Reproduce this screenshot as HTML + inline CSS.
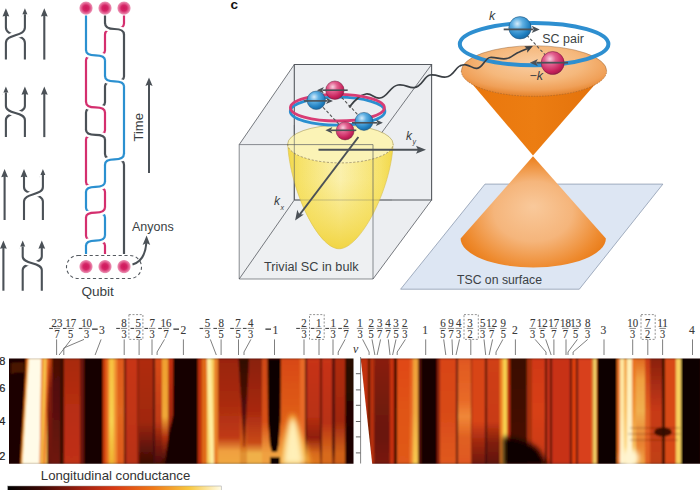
<!DOCTYPE html>
<html><head><meta charset="utf-8"><style>
html,body{margin:0;padding:0;background:#fff;overflow:hidden;width:700px;height:490px;}
svg{display:block;font-family:"Liberation Sans",sans-serif;}
</style></head><body>
<svg width="700" height="490" viewBox="0 0 700 490">
<rect width="700" height="490" fill="#fff"/>
<g>
<line x1="44.3" y1="14.2" x2="44.3" y2="59.6" stroke="#4b5157" stroke-width="2.1"/><path d="M44.3,8.2 L40.9,16.5 L44.3,15.799999999999999 L47.699999999999996,16.5Z" fill="#4b5157"/><path d="M5.9,8.2 L2.5000000000000004,16.5 L5.9,15.799999999999999 L9.3,16.5Z" fill="#4b5157"/><path d="M24.9,8.2 L21.5,16.5 L24.9,15.799999999999999 L28.299999999999997,16.5Z" fill="#4b5157"/><path d="M24.9,59.6 L24.9,43  C24.9,33.7 5.9,36.8 5.9,27.5 L5.9,14.2" fill="none" stroke="#4b5157" stroke-width="2.1"/><path d="M5.9,59.6 L5.9,43  C5.9,33.7 24.9,36.8 24.9,27.5 L24.9,14.2" fill="none" stroke="#fff" stroke-width="7"/><path d="M5.9,59.6 L5.9,43  C5.9,33.7 24.9,36.8 24.9,27.5 L24.9,14.2" fill="none" stroke="#4b5157" stroke-width="2.1"/>
<line x1="44.3" y1="92.5" x2="44.3" y2="137.1" stroke="#4b5157" stroke-width="2.1"/><path d="M44.3,86.5 L40.9,94.8 L44.3,94.1 L47.699999999999996,94.8Z" fill="#4b5157"/><path d="M5.9,86.5 L2.5000000000000004,94.8 L5.9,94.1 L9.3,94.8Z" fill="#4b5157"/><path d="M24.9,86.5 L21.5,94.8 L24.9,94.1 L28.299999999999997,94.8Z" fill="#4b5157"/><path d="M5.9,137.1 L5.9,120  C5.9,111.6 24.9,114.4 24.9,106 L24.9,92.5" fill="none" stroke="#4b5157" stroke-width="2.1"/><path d="M24.9,137.1 L24.9,120  C24.9,111.6 5.9,114.4 5.9,106 L5.9,92.5" fill="none" stroke="#fff" stroke-width="7"/><path d="M24.9,137.1 L24.9,120  C24.9,111.6 5.9,114.4 5.9,106 L5.9,92.5" fill="none" stroke="#4b5157" stroke-width="2.1"/>
<line x1="4.6" y1="175" x2="4.6" y2="220" stroke="#4b5157" stroke-width="2.1"/><path d="M4.6,169 L1.1999999999999997,177.3 L4.6,176.6 L8.0,177.3Z" fill="#4b5157"/><path d="M24.0,169 L20.6,177.3 L24.0,176.6 L27.4,177.3Z" fill="#4b5157"/><path d="M42.9,169 L39.5,177.3 L42.9,176.6 L46.3,177.3Z" fill="#4b5157"/><path d="M42.9,220 L42.9,201.5  C42.9,192.8 24.0,195.7 24.0,187 L24.0,175" fill="none" stroke="#4b5157" stroke-width="2.1"/><path d="M24.0,220 L24.0,201.5  C24.0,192.8 42.9,195.7 42.9,187 L42.9,175" fill="none" stroke="#fff" stroke-width="7"/><path d="M24.0,220 L24.0,201.5  C24.0,192.8 42.9,195.7 42.9,187 L42.9,175" fill="none" stroke="#4b5157" stroke-width="2.1"/>
<line x1="3.4" y1="246.4" x2="3.4" y2="290.7" stroke="#4b5157" stroke-width="2.1"/><path d="M3.4,240.4 L0.0,248.70000000000002 L3.4,248.0 L6.8,248.70000000000002Z" fill="#4b5157"/><path d="M22.7,240.4 L19.3,248.70000000000002 L22.7,248.0 L26.099999999999998,248.70000000000002Z" fill="#4b5157"/><path d="M41.8,240.4 L38.4,248.70000000000002 L41.8,248.0 L45.199999999999996,248.70000000000002Z" fill="#4b5157"/><path d="M22.7,290.7 L22.7,270  C22.7,261.9 41.8,264.6 41.8,256.5 L41.8,246.4" fill="none" stroke="#4b5157" stroke-width="2.1"/><path d="M41.8,290.7 L41.8,270  C41.8,261.9 22.7,264.6 22.7,256.5 L22.7,246.4" fill="none" stroke="#fff" stroke-width="7"/><path d="M41.8,290.7 L41.8,270  C41.8,261.9 22.7,264.6 22.7,256.5 L22.7,246.4" fill="none" stroke="#4b5157" stroke-width="2.1"/>
</g>
<g fill="none" stroke-width="2.2" stroke-linecap="butt">
<path d="M86,15.5 L86,50.4  Q86,55.3 95.5,55.3 Q105,55.3 105,60.2 L105,76.5  Q105,81.4 114.5,81.4 Q124,81.4 124,86.3 L124,154.1  Q124,159.39999999999998 114.5,159.39999999999998 Q105,159.39999999999998 105,164.7 L105,182.0  Q105,186.9 95.5,186.9 Q86,186.9 86,191.8 L86,207.8  Q86,212.65 95.5,212.65 Q105,212.65 105,217.5 L105,235.7  Q105,240.6 95.5,240.6 Q86,240.6 86,245.5 L86,254" stroke="#2b90d0"/>
<path d="M105,15.5 L105,23.5  Q105,29.0 114.5,29.0 Q124,29.0 124,34.5 L124,76.5  Q124,81.4 114.5,81.4 Q105,81.4 105,86.3 L105,102.2  Q105,107.4 95.5,107.4 Q86,107.4 86,112.6 L86,130.2  Q86,134.8 95.5,134.8 Q105,134.8 105,139.4 L105,154.1  Q105,159.39999999999998 114.5,159.39999999999998 Q124,159.39999999999998 124,164.7 L124,254" stroke="#4b5157"/>
<path d="M124,15.5 L124,23.5  Q124,29.0 114.5,29.0 Q105,29.0 105,34.5 L105,50.4  Q105,55.3 95.5,55.3 Q86,55.3 86,60.2 L86,102.2  Q86,107.4 95.5,107.4 Q105,107.4 105,112.6 L105,130.2  Q105,134.8 95.5,134.8 Q86,134.8 86,139.4 L86,182.0  Q86,186.9 95.5,186.9 Q105,186.9 105,191.8 L105,207.8  Q105,212.65 95.5,212.65 Q86,212.65 86,217.5 L86,235.7  Q86,240.6 95.5,240.6 Q105,240.6 105,245.5 L105,254" stroke="#d42f6e"/>
<path d="M105,23.5 Q105,29.0 114.5,29.0 Q124,29.0 124,34.5" stroke="#fff" stroke-width="6.5"/>
<path d="M105,23.0  Q105,29.0 114.5,29.0 Q124,29.0 124,34.5 L124,35.0" stroke="#4b5157"/>
<path d="M86,50.4 Q86,55.3 95.5,55.3 Q105,55.3 105,60.2" stroke="#fff" stroke-width="6.5"/>
<path d="M86,49.9  Q86,55.3 95.5,55.3 Q105,55.3 105,60.2 L105,60.7" stroke="#2b90d0"/>
<path d="M105,76.5 Q105,81.4 114.5,81.4 Q124,81.4 124,86.3" stroke="#fff" stroke-width="6.5"/>
<path d="M105,76.0  Q105,81.4 114.5,81.4 Q124,81.4 124,86.3 L124,86.8" stroke="#2b90d0"/>
<path d="M86,102.2 Q86,107.4 95.5,107.4 Q105,107.4 105,112.6" stroke="#fff" stroke-width="6.5"/>
<path d="M86,101.7  Q86,107.4 95.5,107.4 Q105,107.4 105,112.6 L105,113.1" stroke="#d42f6e"/>
<path d="M86,130.2 Q86,134.8 95.5,134.8 Q105,134.8 105,139.4" stroke="#fff" stroke-width="6.5"/>
<path d="M86,129.7  Q86,134.8 95.5,134.8 Q105,134.8 105,139.4 L105,139.9" stroke="#4b5157"/>
<path d="M124,154.1 Q124,159.39999999999998 114.5,159.39999999999998 Q105,159.39999999999998 105,164.7" stroke="#fff" stroke-width="6.5"/>
<path d="M124,153.6  Q124,159.39999999999998 114.5,159.39999999999998 Q105,159.39999999999998 105,164.7 L105,165.2" stroke="#2b90d0"/>
<path d="M105,182.0 Q105,186.9 95.5,186.9 Q86,186.9 86,191.8" stroke="#fff" stroke-width="6.5"/>
<path d="M105,181.5  Q105,186.9 95.5,186.9 Q86,186.9 86,191.8 L86,192.3" stroke="#2b90d0"/>
<path d="M105,207.8 Q105,212.65 95.5,212.65 Q86,212.65 86,217.5" stroke="#fff" stroke-width="6.5"/>
<path d="M105,207.3  Q105,212.65 95.5,212.65 Q86,212.65 86,217.5 L86,218.0" stroke="#d42f6e"/>
<path d="M105,235.7 Q105,240.6 95.5,240.6 Q86,240.6 86,245.5" stroke="#fff" stroke-width="6.5"/>
<path d="M105,235.2  Q105,240.6 95.5,240.6 Q86,240.6 86,245.5 L86,246.0" stroke="#2b90d0"/>
</g>
<defs><radialGradient id="dotg"><stop offset="0" stop-color="#cf185b"/><stop offset="0.4" stop-color="#d42466"/><stop offset="0.62" stop-color="#e05488"/><stop offset="0.85" stop-color="#ea8cb0"/><stop offset="1" stop-color="#f6d0de" stop-opacity="0"/></radialGradient></defs>
<circle cx="86" cy="8.1" r="7.2" fill="url(#dotg)"/>
<circle cx="86" cy="266.6" r="7.2" fill="url(#dotg)"/>
<circle cx="105" cy="8.1" r="7.2" fill="url(#dotg)"/>
<circle cx="105" cy="266.6" r="7.2" fill="url(#dotg)"/>
<circle cx="124" cy="8.1" r="7.2" fill="url(#dotg)"/>
<circle cx="124" cy="266.6" r="7.2" fill="url(#dotg)"/>
<rect x="66.5" y="255.5" width="75" height="23" rx="11.5" fill="none" stroke="#555a60" stroke-width="1.1" stroke-dasharray="3.2 2.6"/>
<text x="81.4" y="296" font-size="12.8" fill="#3a3f44" textLength="32.5" lengthAdjust="spacingAndGlyphs">Qubit</text>
<path d="M132.5,264.5 Q145,261 146.3,243" fill="none" stroke="#4b5157" stroke-width="2.1"/>
<path d="M146.6,235.5 L142.6,245 L146.4,243 L150.2,245Z" fill="#4b5157"/>
<text x="132" y="231.3" font-size="12.5" fill="#3a3f44">Anyons</text>
<line x1="149" y1="84" x2="149" y2="173" stroke="#4b5157" stroke-width="2"/>
<path d="M149,77.5 L145.4,86 L149,84.5 L152.6,86Z" fill="#4b5157"/>
<text transform="translate(143,141.5) rotate(-90)" font-size="13" fill="#3a3f44">Time</text>
<text x="230.5" y="9" font-size="13.6" font-weight="bold" fill="#111">c</text>
<defs>
<radialGradient id="ballB" cx="0.38" cy="0.32" r="0.7"><stop offset="0" stop-color="#d6ecfa"/><stop offset="0.35" stop-color="#5fb0e3"/><stop offset="0.8" stop-color="#1f7fc0"/><stop offset="1" stop-color="#1a6aa5"/></radialGradient>
<radialGradient id="ballP" cx="0.38" cy="0.32" r="0.7"><stop offset="0" stop-color="#f8d0df"/><stop offset="0.35" stop-color="#e2608f"/><stop offset="0.8" stop-color="#c8225c"/><stop offset="1" stop-color="#a81a4c"/></radialGradient>
<linearGradient id="parab" x1="0" y1="0" x2="0" y2="1"><stop offset="0" stop-color="#fbf1a6"/><stop offset="0.45" stop-color="#fbf2b0"/><stop offset="0.8" stop-color="#f6e367"/><stop offset="1" stop-color="#f2d93f"/></linearGradient>
<radialGradient id="parabEdge" cx="0.5" cy="0.35" r="0.6"><stop offset="0.5" stop-color="#fff" stop-opacity="0.35"/><stop offset="1" stop-color="#f0d840" stop-opacity="0.45"/></radialGradient>
</defs>
<polygon points="294.3,64.5 431.6,64.5 431.6,200 294.3,200" fill="#eceef1" stroke="none" stroke-width="0"/>
<polygon points="239.2,144.6 294.3,64.5 294.3,200 239.2,279" fill="#e9ebee" stroke="none" stroke-width="0"/>
<polygon points="239.2,279 294.3,200 431.6,200 373,279" fill="#f3f4f6" stroke="none" stroke-width="0"/>
<polygon points="373,144.6 431.6,64.5 431.6,200 373,279" fill="#eceef1" stroke="none" stroke-width="0"/>
<polygon points="239.2,144.6 294.3,64.5 431.6,64.5 373,144.6" fill="#eceef1" stroke="none" stroke-width="0"/>
<polygon points="239.2,144.6 373,144.6 373,279 239.2,279" fill="#eef0f2" stroke="none" stroke-width="0"/>
<path d="M294.3,200 L294.3,64.5 L431.6,64.5 L431.6,200 L294.3,200" fill="none" stroke="#55595f" stroke-width="1.1"/>
<line x1="239.2" y1="144.6" x2="294.3" y2="64.5" stroke="#55595f" stroke-width="0.8"/>
<line x1="373" y1="144.6" x2="431.6" y2="64.5" stroke="#55595f" stroke-width="0.8"/>
<line x1="373" y1="279" x2="431.6" y2="200" stroke="#55595f" stroke-width="0.8"/>
<line x1="239.2" y1="279" x2="294.3" y2="200" stroke="#55595f" stroke-width="0.8"/>
<defs>
<linearGradient id="parH" x1="0" y1="0" x2="1" y2="0"><stop offset="0" stop-color="#f2d84a"/><stop offset="0.12" stop-color="#f6e26a"/><stop offset="0.5" stop-color="#fbf1b0"/><stop offset="0.88" stop-color="#f6e26a"/><stop offset="1" stop-color="#f2d84a"/></linearGradient>
<linearGradient id="parV" x1="0" y1="0" x2="0" y2="1"><stop offset="0" stop-color="#f4dc50" stop-opacity="0"/><stop offset="0.35" stop-color="#f4dc50" stop-opacity="0.05"/><stop offset="0.7" stop-color="#f3d84a" stop-opacity="0.55"/><stop offset="1" stop-color="#f0d238" stop-opacity="0.9"/></linearGradient>
</defs>
<path d="M287.7,144 C290,190 318,248.8 339.2,248.8 C360,248.8 391,190 393.1,144 A52.7,18.9 0 0 1 287.7,144Z" fill="url(#parH)"/>
<path d="M287.7,144 C290,190 318,248.8 339.2,248.8 C360,248.8 391,190 393.1,144 A52.7,18.9 0 0 1 287.7,144Z" fill="url(#parV)"/>
<path d="M287.7,144 C290,190 318,248.8 339.2,248.8 C360,248.8 391,190 393.1,144" fill="none" stroke="#d8c050" stroke-width="0.6"/>
<ellipse cx="340.4" cy="144" rx="52.7" ry="18.9" fill="#fbf3b6"/>
<path d="M287.7,144 A52.7,18.9 0 0 1 393.1,144" fill="none" stroke="#a89850" stroke-width="0.6"/>
<path d="M287.7,144 A52.7,18.9 0 0 0 393.1,144" fill="none" stroke="#8a7a50" stroke-width="0.7" stroke-dasharray="2.2 1.6"/>
<line x1="294.3" y1="125" x2="294.3" y2="200" stroke="#55595f" stroke-width="0.8" opacity="0.75"/>
<line x1="294.3" y1="200" x2="392" y2="200" stroke="#55595f" stroke-width="0.7" opacity="0.45"/>
<path d="M239.2,144.6 L373,144.6 L373,279 L239.2,279 Z" fill="none" stroke="#55595f" stroke-width="0.8" opacity="0.85"/>
<text x="264" y="270.5" font-size="12.5" fill="#3a3f44" textLength="94.6" lengthAdjust="spacingAndGlyphs">Trivial SC in bulk</text>
<line x1="318.5" y1="149.7" x2="419" y2="149.7" stroke="#4b5157" stroke-width="2"/>
<path d="M426,149.7 L416,145.7 L418,149.7 L416,153.7Z" fill="#4b5157"/>
<line x1="358.4" y1="137" x2="299" y2="215.5" stroke="#4b5157" stroke-width="2"/>
<path d="M295.1,220.5 L297.3,209.8 L299.3,214.3 L303.8,214.6Z" fill="#4b5157"/>
<text x="406" y="140" font-size="12" font-style="italic" fill="#3a3f44">k</text><text x="412.5" y="143.5" font-size="7" font-style="italic" fill="#3a3f44">y</text>
<text x="274" y="204.6" font-size="12" font-style="italic" fill="#3a3f44">k</text><text x="280.5" y="209.5" font-size="7" font-style="italic" fill="#3a3f44">x</text>
<ellipse cx="337.6" cy="111.2" rx="47.3" ry="14" fill="none" stroke="#2a8fd0" stroke-width="2.8"/>
<path d="M349.8,106.6 Q354,101 358,98 Q361,95 366,94 C372,93 374,99 380,98 C388,97 390,86 398,85 C406,84 408,88 414,87.6 C422,87 424,76 430,75 C438,74 440,78 446,77 C454,76 456,66 461,65.5" fill="none" stroke="#3a3f44" stroke-width="1.7"/>
<circle cx="350" cy="106.4" r="1.3" fill="#3a3f44"/>
<ellipse cx="337.4" cy="107.7" rx="47" ry="13.3" fill="none" stroke="#d83c74" stroke-width="2.8"/>
<path d="M316.3,100 L345.1,130.9 M334.9,90.2 L364,121.4" stroke="#555" stroke-width="1.1" stroke-dasharray="3 2"/>
<circle cx="334.9" cy="90.2" r="9.2" fill="url(#ballP)" stroke="#6a1a3a" stroke-width="0.5"/>
<line x1="347.7" y1="90.2" x2="322.5" y2="90.2" stroke="#4b5157" stroke-width="1.6"/><path d="M316.9,90.2 L323.9,87.0 L322.15,90.2 L323.9,93.4Z" fill="#4b5157"/>
<circle cx="316.3" cy="100.3" r="9.2" fill="url(#ballB)" stroke="#1a4a70" stroke-width="0.5"/>
<line x1="304" y1="100.9" x2="327.4" y2="100.9" stroke="#4b5157" stroke-width="1.6"/><path d="M333,100.9 L326,97.7 L327.75,100.9 L326,104.10000000000001Z" fill="#4b5157"/>
<circle cx="364" cy="121.4" r="9" fill="url(#ballB)" stroke="#1a4a70" stroke-width="0.5"/>
<line x1="352" y1="122.8" x2="377.29999999999995" y2="122.8" stroke="#4b5157" stroke-width="1.6"/><path d="M382.9,122.8 L375.9,119.6 L377.65,122.8 L375.9,126.0Z" fill="#4b5157"/>
<circle cx="345.1" cy="130.9" r="9" fill="url(#ballP)" stroke="#6a1a3a" stroke-width="0.5"/>
<line x1="356.3" y1="130.3" x2="331.0" y2="130.3" stroke="#4b5157" stroke-width="1.6"/><path d="M325.4,130.3 L332.4,127.10000000000001 L330.65,130.3 L332.4,133.5Z" fill="#4b5157"/>
<defs>
<linearGradient id="coneU" x1="0" y1="0" x2="1" y2="0"><stop offset="0" stop-color="#e9760c"/><stop offset="0.5" stop-color="#ec7d12"/><stop offset="1" stop-color="#e2700a"/></linearGradient>
<radialGradient id="coneTop" cx="0.5" cy="0.35" r="0.62"><stop offset="0" stop-color="#f9cda2"/><stop offset="0.55" stop-color="#f5b87c"/><stop offset="0.85" stop-color="#f0a058"/><stop offset="1" stop-color="#e88a36"/></radialGradient>
<radialGradient id="coneL" cx="0.5" cy="0.55" r="0.6" fx="0.5" fy="0.45"><stop offset="0" stop-color="#f9c99b"/><stop offset="0.45" stop-color="#f5b57b"/><stop offset="0.8" stop-color="#ee8a2e"/><stop offset="1" stop-color="#e6740c"/></radialGradient>
</defs>
<polygon points="485,184.1 662.9,184.1 579.3,289.2 400.6,289.2" fill="#dde6f3" stroke="#8d9ab0" stroke-width="0.8"/>
<text x="457" y="284.4" font-size="12.5" fill="#3a3f44" textLength="85" lengthAdjust="spacingAndGlyphs">TSC on surface</text>
<path d="M533,156.3 L460.6,238.5 A72.65,29 0 0 0 605.9,238.5 Z" fill="url(#coneL)"/>
<path d="M461.2,71 L533,155.5 L606.7,71 Z" fill="url(#coneU)"/>
<ellipse cx="534" cy="71" rx="72.7" ry="25.3" fill="url(#coneTop)"/>
<path d="M461.3,71 A72.7,25.3 0 0 0 606.7,71" fill="none" stroke="#a0602a" stroke-width="0.6" stroke-dasharray="1.6 1.2"/>
<path d="M461.3,71 A72.7,25.3 0 0 1 606.7,71" fill="none" stroke="#8a5a30" stroke-width="0.6" opacity="0.7"/>
<ellipse cx="534.1" cy="44.1" rx="74.3" ry="21.2" fill="none" stroke="#2e8fd0" stroke-width="4"/>
<path d="M460,65.8 C462,65 464,64.6 466,64.8 C471,65.5 473,69 477,68.4 C483,67.8 485,58 490,57.5 C496,57 500,59.5 506,58.7 C512,58 515,53 519.4,52 C523,50.5 525,49.5 527,48.7" fill="none" stroke="#3a3f44" stroke-width="1.7"/>
<path d="M532.9,45.9 L524.3,46.3 L527.3,48.9 L527.2,52.8Z" fill="#3a3f44"/>
<path d="M520,27.8 L552.7,63" stroke="#555" stroke-width="1.1" stroke-dasharray="3 2"/>
<circle cx="520" cy="27.8" r="11.2" fill="url(#ballB)" stroke="#1a4a70" stroke-width="0.5"/>
<line x1="503.7" y1="29.4" x2="533.3000000000001" y2="29.4" stroke="#4b5157" stroke-width="1.8"/><path d="M539.7,29.4 L531.7,25.799999999999997 L533.7,29.4 L531.7,33.0Z" fill="#4b5157"/>
<circle cx="552.7" cy="63" r="11.5" fill="url(#ballP)" stroke="#6a1a3a" stroke-width="0.5"/>
<line x1="568" y1="62.7" x2="536.3" y2="62.7" stroke="#4b5157" stroke-width="1.8"/><path d="M529.9,62.7 L537.9,59.1 L535.9,62.7 L537.9,66.3Z" fill="#4b5157"/>
<text x="489" y="19.6" font-size="12.5" font-style="italic" fill="#3a3f44">k</text>
<text x="542.3" y="42.5" font-size="12.5" fill="#3a3f44" textLength="41.5" lengthAdjust="spacingAndGlyphs">SC pair</text>
<text x="529.5" y="80" font-size="12.5" font-style="italic" fill="#3a3f44">−k</text>
<defs><linearGradient id="hg1" x1="0" y1="0" x2="0" y2="1"><stop offset="0" stop-color="#c04010"/><stop offset="0.3" stop-color="#801c0c"/><stop offset="1" stop-color="#6a1408"/></linearGradient><linearGradient id="hg2" x1="0" y1="0" x2="0" y2="1"><stop offset="0" stop-color="#4a0c06"/><stop offset="0.5" stop-color="#5a1008"/><stop offset="1" stop-color="#701a0a"/></linearGradient><linearGradient id="hg3" x1="0" y1="0" x2="0" y2="1"><stop offset="0" stop-color="#a82a10"/><stop offset="0.5" stop-color="#b82e12"/><stop offset="1" stop-color="#c03012"/></linearGradient><linearGradient id="hg4" x1="0" y1="0" x2="0" y2="1"><stop offset="0" stop-color="#f8c040"/><stop offset="0.6" stop-color="#f8d050"/><stop offset="1" stop-color="#f0b030"/></linearGradient><linearGradient id="hg5" x1="0" y1="0" x2="0" y2="1"><stop offset="0" stop-color="#e05a1a"/><stop offset="0.5" stop-color="#e06820"/><stop offset="1" stop-color="#e05a1a"/></linearGradient><linearGradient id="hg6" x1="0" y1="0" x2="0" y2="1"><stop offset="0" stop-color="#c83414"/><stop offset="0.6" stop-color="#c03414"/><stop offset="1" stop-color="#b83012"/></linearGradient><linearGradient id="hg7" x1="0" y1="0" x2="0" y2="1"><stop offset="0" stop-color="#b02c10"/><stop offset="0.6" stop-color="#a02810"/><stop offset="0.85" stop-color="#601408"/><stop offset="1" stop-color="#3a0a04"/></linearGradient><linearGradient id="hg8" x1="0" y1="0" x2="0" y2="1"><stop offset="0" stop-color="#d84a18"/><stop offset="0.6" stop-color="#c03a14"/><stop offset="0.8" stop-color="#801c0c"/><stop offset="1" stop-color="#4a0c06"/></linearGradient><linearGradient id="hg9" x1="0" y1="0" x2="0" y2="1"><stop offset="0" stop-color="#f0a030"/><stop offset="0.55" stop-color="#f0a838"/><stop offset="0.75" stop-color="#b03010"/><stop offset="1" stop-color="#3a0a04"/></linearGradient><linearGradient id="hg10" x1="0" y1="0" x2="0" y2="1"><stop offset="0" stop-color="#c83010"/><stop offset="0.6" stop-color="#a02810"/><stop offset="0.8" stop-color="#300804"/><stop offset="1" stop-color="#100302"/></linearGradient><linearGradient id="hg11" x1="0" y1="0" x2="0" y2="1"><stop offset="0" stop-color="#9a2410"/><stop offset="0.4" stop-color="#a82a10"/><stop offset="0.75" stop-color="#c03a14"/><stop offset="0.88" stop-color="#f0a040"/><stop offset="1" stop-color="#f0a840"/></linearGradient><linearGradient id="hg12" x1="0" y1="0" x2="0" y2="1"><stop offset="0" stop-color="#a02810"/><stop offset="0.5" stop-color="#c03414"/><stop offset="0.82" stop-color="#d06018"/><stop offset="0.9" stop-color="#e09030"/><stop offset="1" stop-color="#e09030"/></linearGradient><linearGradient id="hg13" x1="0" y1="0" x2="0" y2="1"><stop offset="0" stop-color="#8a2010"/><stop offset="0.5" stop-color="#a82810"/><stop offset="0.8" stop-color="#c84a18"/><stop offset="0.9" stop-color="#f0b048"/><stop offset="1" stop-color="#f0b048"/></linearGradient><linearGradient id="hg14" x1="0" y1="0" x2="0" y2="1"><stop offset="0" stop-color="#d04a14"/><stop offset="0.6" stop-color="#d85018"/><stop offset="0.9" stop-color="#f0a040"/><stop offset="1" stop-color="#f0a040"/></linearGradient><linearGradient id="hg15" x1="0" y1="0" x2="0" y2="1"><stop offset="0" stop-color="#d04a14"/><stop offset="0.6" stop-color="#d85018"/><stop offset="0.9" stop-color="#f0a040"/><stop offset="1" stop-color="#f0a040"/></linearGradient><linearGradient id="hg16" x1="0" y1="0" x2="0" y2="1"><stop offset="0" stop-color="#d84a14"/><stop offset="0.6" stop-color="#e06018"/><stop offset="1" stop-color="#f0a040"/></linearGradient><linearGradient id="hg17" x1="0" y1="0" x2="0" y2="1"><stop offset="0" stop-color="#d84818"/><stop offset="0.6" stop-color="#e06018"/><stop offset="1" stop-color="#f0b040"/></linearGradient><linearGradient id="hg18" x1="0" y1="0" x2="0" y2="1"><stop offset="0" stop-color="#e86a28"/><stop offset="0.8" stop-color="#e86a28"/><stop offset="1" stop-color="#e8801e"/></linearGradient><linearGradient id="hg19" x1="0" y1="0" x2="0" y2="1"><stop offset="0" stop-color="#501008"/><stop offset="0.8" stop-color="#601408"/><stop offset="1" stop-color="#a04010"/></linearGradient><linearGradient id="hg20" x1="0" y1="0" x2="0" y2="1"><stop offset="0" stop-color="#c83414"/><stop offset="0.55" stop-color="#b83012"/><stop offset="0.75" stop-color="#901e0c"/><stop offset="0.9" stop-color="#d86a1c"/><stop offset="1" stop-color="#e0781e"/></linearGradient><linearGradient id="hg21" x1="0" y1="0" x2="0" y2="1"><stop offset="0" stop-color="#601408"/><stop offset="0.85" stop-color="#601408"/><stop offset="1" stop-color="#a04010"/></linearGradient><linearGradient id="hg22" x1="0" y1="0" x2="0" y2="1"><stop offset="0" stop-color="#c83414"/><stop offset="0.6" stop-color="#b83012"/><stop offset="0.9" stop-color="#d86a1c"/><stop offset="1" stop-color="#d86a1c"/></linearGradient><linearGradient id="hg23" x1="0" y1="0" x2="0" y2="1"><stop offset="0" stop-color="#501008"/><stop offset="0.85" stop-color="#501008"/><stop offset="1" stop-color="#a04010"/></linearGradient><linearGradient id="hg24" x1="0" y1="0" x2="0" y2="1"><stop offset="0" stop-color="#b02a10"/><stop offset="0.6" stop-color="#a02810"/><stop offset="0.9" stop-color="#d06018"/><stop offset="1" stop-color="#d06018"/></linearGradient><linearGradient id="hg25" x1="0" y1="0" x2="0" y2="1"><stop offset="0" stop-color="#2a0804"/><stop offset="1" stop-color="#1a0503"/></linearGradient><linearGradient id="hg26" x1="0" y1="0" x2="0" y2="1"><stop offset="0" stop-color="#8a2010"/><stop offset="0.5" stop-color="#701a0a"/><stop offset="0.75" stop-color="#6a1808"/><stop offset="1" stop-color="#7a1a0a"/></linearGradient><linearGradient id="hg27" x1="0" y1="0" x2="0" y2="1"><stop offset="0" stop-color="#e04818"/><stop offset="0.5" stop-color="#e05418"/><stop offset="1" stop-color="#e05a1a"/></linearGradient><linearGradient id="hg28" x1="0" y1="0" x2="0" y2="1"><stop offset="0" stop-color="#e86020"/><stop offset="0.5" stop-color="#e86a28"/><stop offset="1" stop-color="#f08830"/></linearGradient><linearGradient id="hg29" x1="0" y1="0" x2="0" y2="1"><stop offset="0" stop-color="#f0a038"/><stop offset="0.5" stop-color="#f0a840"/><stop offset="1" stop-color="#f8c850"/></linearGradient><linearGradient id="hg30" x1="0" y1="0" x2="0" y2="1"><stop offset="0" stop-color="#d84418"/><stop offset="0.5" stop-color="#d84a18"/><stop offset="1" stop-color="#e05a20"/></linearGradient><linearGradient id="hg31" x1="0" y1="0" x2="0" y2="1"><stop offset="0" stop-color="#e05820"/><stop offset="0.4" stop-color="#e86a28"/><stop offset="0.55" stop-color="#f08838"/><stop offset="0.75" stop-color="#e06020"/><stop offset="1" stop-color="#e05820"/></linearGradient><linearGradient id="hg32" x1="0" y1="0" x2="0" y2="1"><stop offset="0" stop-color="#d84418"/><stop offset="0.6" stop-color="#d84418"/><stop offset="0.8" stop-color="#a02810"/><stop offset="1" stop-color="#701808"/></linearGradient><linearGradient id="hg33" x1="0" y1="0" x2="0" y2="1"><stop offset="0" stop-color="#d04016"/><stop offset="0.6" stop-color="#c83a14"/><stop offset="0.8" stop-color="#801e0c"/><stop offset="1" stop-color="#601408"/></linearGradient><linearGradient id="hg34" x1="0" y1="0" x2="0" y2="1"><stop offset="0" stop-color="#3a0a06"/><stop offset="1" stop-color="#4a1007"/></linearGradient><linearGradient id="hg35" x1="0" y1="0" x2="0" y2="1"><stop offset="0" stop-color="#d03814"/><stop offset="0.5" stop-color="#d84016"/><stop offset="1" stop-color="#c83814"/></linearGradient><linearGradient id="hg36" x1="0" y1="0" x2="0" y2="1"><stop offset="0" stop-color="#ffe8a0"/><stop offset="0.5" stop-color="#ffe8a8"/><stop offset="1" stop-color="#fff4d0"/></linearGradient><linearGradient id="hg37" x1="0" y1="0" x2="0" y2="1"><stop offset="0" stop-color="#f0a040"/><stop offset="0.5" stop-color="#f8c060"/><stop offset="1" stop-color="#ffe8a0"/></linearGradient><linearGradient id="hg38" x1="0" y1="0" x2="0" y2="1"><stop offset="0" stop-color="#ffeeb0"/><stop offset="0.5" stop-color="#fff0c0"/><stop offset="1" stop-color="#fff4d0"/></linearGradient><linearGradient id="hg39" x1="0" y1="0" x2="0" y2="1"><stop offset="0" stop-color="#e87020"/><stop offset="0.5" stop-color="#f09838"/><stop offset="1" stop-color="#f8d070"/></linearGradient><linearGradient id="hg40" x1="0" y1="0" x2="0" y2="1"><stop offset="0" stop-color="#e06820"/><stop offset="0.2" stop-color="#f0a040"/><stop offset="0.5" stop-color="#f0b050"/><stop offset="0.8" stop-color="#e88030"/><stop offset="1" stop-color="#f0a040"/></linearGradient><linearGradient id="hg41" x1="0" y1="0" x2="0" y2="1"><stop offset="0" stop-color="#c83a14"/><stop offset="0.5" stop-color="#e06020"/><stop offset="1" stop-color="#e06020"/></linearGradient><linearGradient id="hg42" x1="0" y1="0" x2="0" y2="1"><stop offset="0" stop-color="#8a2010"/><stop offset="0.5" stop-color="#c83a14"/><stop offset="1" stop-color="#c04014"/></linearGradient><filter id="hblur" x="-2%" y="-5%" width="104%" height="110%"><feGaussianBlur stdDeviation="1.0 0.8"/></filter><filter id="bblur" x="-30%" y="-30%" width="160%" height="160%"><feGaussianBlur stdDeviation="2.5"/></filter><clipPath id="clipL"><rect x="9" y="358.4" width="344.5" height="105.4"/></clipPath><clipPath id="clipR"><polygon points="360.7,358.4 700,358.4 700,463.8 372.2,463.8"/></clipPath><linearGradient id="cbar" x1="0" y1="0" x2="1" y2="0"><stop offset="0" stop-color="#000"/><stop offset="0.15" stop-color="#3a0804"/><stop offset="0.35" stop-color="#a02010"/><stop offset="0.5" stop-color="#d83a14"/><stop offset="0.68" stop-color="#f07818"/><stop offset="0.85" stop-color="#f8c840"/><stop offset="1" stop-color="#fffce8"/></linearGradient></defs><g clip-path="url(#clipL)"><g filter="url(#hblur)"><rect x="0" y="350" width="360" height="120" fill="#1a0502"/><rect x="9" y="358.4" width="17" height="105.40000000000003" fill="#1a0502"/><rect x="26" y="358.4" width="4" height="105.40000000000003" fill="#c04010"/><rect x="30" y="358.4" width="17" height="105.40000000000003" fill="#f8c050"/><rect x="47" y="358.4" width="5" height="105.40000000000003" fill="url(#hg1)"/><rect x="52" y="358.4" width="8" height="105.40000000000003" fill="url(#hg2)"/><rect x="60" y="358.4" width="4" height="105.40000000000003" fill="#3a0a04"/><rect x="64" y="358.4" width="16" height="105.40000000000003" fill="url(#hg3)"/><rect x="80" y="358.4" width="4" height="105.40000000000003" fill="#6a1808"/><rect x="84" y="358.4" width="19" height="105.40000000000003" fill="#120402"/><rect x="103" y="358.4" width="3" height="105.40000000000003" fill="#d04010"/><rect x="106" y="358.4" width="3" height="105.40000000000003" fill="#e87020"/><rect x="109" y="358.4" width="5" height="105.40000000000003" fill="url(#hg4)"/><rect x="114" y="358.4" width="3" height="105.40000000000003" fill="#f09030"/><rect x="117" y="358.4" width="7" height="105.40000000000003" fill="url(#hg5)"/><rect x="124" y="358.4" width="2" height="105.40000000000003" fill="#501008"/><rect x="126" y="358.4" width="11" height="105.40000000000003" fill="url(#hg6)"/><rect x="137" y="358.4" width="2" height="105.40000000000003" fill="#902010"/><rect x="139" y="358.4" width="14" height="105.40000000000003" fill="url(#hg7)"/><rect x="153" y="358.4" width="2" height="105.40000000000003" fill="#401008"/><rect x="155" y="358.4" width="7" height="105.40000000000003" fill="url(#hg8)"/><rect x="162" y="358.4" width="6" height="105.40000000000003" fill="url(#hg9)"/><rect x="168" y="358.4" width="5" height="105.40000000000003" fill="url(#hg10)"/><rect x="173" y="358.4" width="25" height="105.40000000000003" fill="#130402"/><rect x="198" y="358.4" width="4" height="105.40000000000003" fill="#c03010"/><rect x="202" y="358.4" width="5" height="105.40000000000003" fill="#e06a18"/><rect x="207" y="358.4" width="7" height="105.40000000000003" fill="#f8d060"/><rect x="214" y="358.4" width="4" height="105.40000000000003" fill="#e88028"/><rect x="218" y="358.4" width="22" height="105.40000000000003" fill="url(#hg11)"/><rect x="240" y="358.4" width="7" height="105.40000000000003" fill="url(#hg12)"/><rect x="247" y="358.4" width="15" height="105.40000000000003" fill="url(#hg13)"/><rect x="262" y="358.4" width="6" height="105.40000000000003" fill="url(#hg14)"/><rect x="268" y="358.4" width="12" height="105.40000000000003" fill="url(#hg15)"/><rect x="280" y="358.4" width="3" height="105.40000000000003" fill="url(#hg16)"/><rect x="283" y="358.4" width="17" height="105.40000000000003" fill="url(#hg17)"/><rect x="300" y="358.4" width="5" height="105.40000000000003" fill="url(#hg18)"/><rect x="305" y="358.4" width="2" height="105.40000000000003" fill="url(#hg19)"/><rect x="307" y="358.4" width="13" height="105.40000000000003" fill="url(#hg20)"/><rect x="320" y="358.4" width="2" height="105.40000000000003" fill="url(#hg21)"/><rect x="322" y="358.4" width="10" height="105.40000000000003" fill="url(#hg22)"/><rect x="332" y="358.4" width="3" height="105.40000000000003" fill="url(#hg23)"/><rect x="335" y="358.4" width="10" height="105.40000000000003" fill="url(#hg24)"/><rect x="345" y="358.4" width="9" height="105.40000000000003" fill="url(#hg25)"/><polygon points="26.5,358.4 49,358.4 45,463.8 20.5,463.8" fill="#e86a20"/><polygon points="28,358.4 46.5,358.4 43,463.8 21.5,463.8" fill="#f8c850"/><polygon points="29,358.4 41,358.4 40,463.8 22.5,463.8" fill="#fffbe8"/><polygon points="41.5,358.4 43.5,358.4 41,463.8 39.5,463.8" fill="#e87020" opacity="0.9"/><path d="M11,363 L24,362 L25,373 Q18,371 11,374Z" fill="#6a1a0a" opacity="0.6"/><g filter="url(#bblur)"><path d="M280,463.8 L282,448 Q286,430 289,418 Q292,410 296,418 Q300,432 306,446 L310,463.8Z" fill="#f8b840"/><path d="M284,463.8 Q286,440 290,422 Q293,416 296,424 Q299,440 303,463.8Z" fill="#fff0b8"/></g><path d="M207,358.4 L211,358.4 L214,463.8 L210,463.8Z" fill="#fff0a8" opacity="0.9"/><polygon points="173,415 176,415 176,463.8 165,463.8 168,440" fill="#130402"/><defs><linearGradient id="vdark" x1="0" y1="0" x2="0" y2="1"><stop offset="0" stop-color="#300804"/><stop offset="0.7" stop-color="#5a1208"/><stop offset="1" stop-color="#a03010"/></linearGradient></defs><polygon points="238.5,358.4 249,358.4 245,447 243.5,447" fill="url(#vdark)"/><polygon points="267.5,358.4 281,358.4 280.5,420 278.5,445 277,452 272,452 270,445 268,420" fill="#100402"/><rect x="270" y="457" width="10" height="7" fill="#100402"/></g></g><g clip-path="url(#clipR)"><g filter="url(#hblur)"><rect x="355" y="350" width="350" height="120" fill="#1a0502"/><rect x="360" y="358.4" width="8" height="105.40000000000003" fill="#c03010"/><rect x="368" y="358.4" width="2" height="105.40000000000003" fill="#300804"/><rect x="370" y="358.4" width="4" height="105.40000000000003" fill="#b83010"/><rect x="374" y="358.4" width="16" height="105.40000000000003" fill="url(#hg26)"/><rect x="390" y="358.4" width="4" height="105.40000000000003" fill="#c83010"/><rect x="394" y="358.4" width="3" height="105.40000000000003" fill="#200604"/><rect x="397" y="358.4" width="13" height="105.40000000000003" fill="url(#hg27)"/><rect x="410" y="358.4" width="3" height="105.40000000000003" fill="url(#hg28)"/><rect x="413" y="358.4" width="5" height="105.40000000000003" fill="url(#hg29)"/><rect x="418" y="358.4" width="3" height="105.40000000000003" fill="#5a1408"/><rect x="421" y="358.4" width="16" height="105.40000000000003" fill="#120402"/><rect x="437" y="358.4" width="3" height="105.40000000000003" fill="#8a2010"/><rect x="440" y="358.4" width="16" height="105.40000000000003" fill="url(#hg30)"/><rect x="456" y="358.4" width="2" height="105.40000000000003" fill="#500e08"/><rect x="458" y="358.4" width="13" height="105.40000000000003" fill="url(#hg31)"/><rect x="471" y="358.4" width="1" height="105.40000000000003" fill="#801a0c"/><rect x="472" y="358.4" width="13" height="105.40000000000003" fill="url(#hg32)"/><rect x="485" y="358.4" width="2" height="105.40000000000003" fill="#401008"/><rect x="487" y="358.4" width="13" height="105.40000000000003" fill="url(#hg33)"/><rect x="500" y="358.4" width="3" height="105.40000000000003" fill="#f08828"/><rect x="503" y="358.4" width="4" height="105.40000000000003" fill="#f8d050"/><rect x="507" y="358.4" width="3" height="105.40000000000003" fill="#c03010"/><rect x="510" y="358.4" width="17" height="105.40000000000003" fill="url(#hg34)"/><rect x="527" y="358.4" width="5" height="105.40000000000003" fill="#a83010"/><rect x="532" y="358.4" width="13" height="105.40000000000003" fill="url(#hg35)"/><rect x="545" y="358.4" width="2" height="105.40000000000003" fill="#401008"/><rect x="547" y="358.4" width="3" height="105.40000000000003" fill="#c83212"/><rect x="550" y="358.4" width="2" height="105.40000000000003" fill="#401008"/><rect x="552" y="358.4" width="18" height="105.40000000000003" fill="#c83212"/><rect x="570" y="358.4" width="2" height="105.40000000000003" fill="#401008"/><rect x="572" y="358.4" width="4" height="105.40000000000003" fill="#e04010"/><rect x="576" y="358.4" width="2" height="105.40000000000003" fill="#401008"/><rect x="578" y="358.4" width="14" height="105.40000000000003" fill="#d8401a"/><rect x="592" y="358.4" width="1.5" height="105.40000000000003" fill="#f09030"/><rect x="593.5" y="358.4" width="2.5" height="105.40000000000003" fill="#fce070"/><rect x="596" y="358.4" width="1" height="105.40000000000003" fill="#e07020"/><rect x="597" y="358.4" width="20" height="105.40000000000003" fill="#100302"/><rect x="617" y="358.4" width="3" height="105.40000000000003" fill="#e87020"/><rect x="620" y="358.4" width="4" height="105.40000000000003" fill="url(#hg36)"/><rect x="624" y="358.4" width="3" height="105.40000000000003" fill="url(#hg37)"/><rect x="627" y="358.4" width="5" height="105.40000000000003" fill="url(#hg38)"/><rect x="632" y="358.4" width="4" height="105.40000000000003" fill="url(#hg39)"/><rect x="636" y="358.4" width="9" height="105.40000000000003" fill="url(#hg40)"/><rect x="645" y="358.4" width="5" height="105.40000000000003" fill="url(#hg41)"/><rect x="650" y="358.4" width="12" height="105.40000000000003" fill="url(#hg42)"/><rect x="662" y="358.4" width="3" height="105.40000000000003" fill="#300804"/><rect x="665" y="358.4" width="11" height="105.40000000000003" fill="#d84a18"/><rect x="676" y="358.4" width="5" height="105.40000000000003" fill="#f8d060"/><rect x="681" y="358.4" width="19" height="105.40000000000003" fill="#0e0302"/><g filter="url(#bblur)"><path d="M503,466 L503,437 Q525,439 538,449 L548,466Z" fill="#100302"/></g><ellipse cx="663" cy="432" rx="9" ry="4.5" fill="#300804" opacity="0.9"/><g filter="url(#bblur)"><ellipse cx="630" cy="458" rx="9" ry="9" fill="#fff4d0"/></g><path d="M630,428 L680,428 M628,434 L680,434 M630,440 L678,440" stroke="#3a0804" stroke-width="1.2" opacity="0.35"/></g></g>
<line x1="360.6" y1="357" x2="360.6" y2="463.5" stroke="#777" stroke-width="0.9"/>
<line x1="355.9" y1="373.7" x2="360.6" y2="373.7" stroke="#666" stroke-width="1"/>
<line x1="355.9" y1="389.9" x2="360.6" y2="389.9" stroke="#666" stroke-width="1"/>
<line x1="355.9" y1="405.3" x2="360.6" y2="405.3" stroke="#666" stroke-width="1"/>
<line x1="355.9" y1="421.5" x2="360.6" y2="421.5" stroke="#666" stroke-width="1"/>
<line x1="355.9" y1="436.9" x2="360.6" y2="436.9" stroke="#666" stroke-width="1"/>
<line x1="355.9" y1="452.9" x2="360.6" y2="452.9" stroke="#666" stroke-width="1"/>
<text x="-0.8" y="364.9" font-size="11" fill="#222" stroke="#222" stroke-width="0.2">8</text>
<text x="-0.8" y="391.9" font-size="11" fill="#222" stroke="#222" stroke-width="0.2">6</text>
<text x="-0.8" y="425.2" font-size="11" fill="#222" stroke="#222" stroke-width="0.2">4</text>
<text x="-0.8" y="459.59999999999997" font-size="11" fill="#222" stroke="#222" stroke-width="0.2">2</text>
<rect x="7.7" y="486" width="213.5" height="6" fill="url(#cbar)" stroke="#999" stroke-width="0.5"/>
<text x="40.8" y="479.7" font-size="13" fill="#333" textLength="149.5" lengthAdjust="spacingAndGlyphs">Longitudinal conductance</text>
<text x="353" y="353" font-size="12" font-style="italic" font-family="Liberation Serif" fill="#333">ν</text>
<text x="51.55" y="326.6" font-size="12.2" fill="#3a3a3a" font-family="Liberation Serif" stroke="#333" stroke-width="0.12" textLength="10.9" lengthAdjust="spacingAndGlyphs">23</text>
<text x="54.4" y="337.6" font-size="12.2" fill="#3a3a3a" font-family="Liberation Serif" stroke="#333" stroke-width="0.12" textLength="5.2" lengthAdjust="spacingAndGlyphs">7</text>
<rect x="53.8" y="327.9" width="6.4" height="0.9" fill="#777"/>
<rect x="49.199999999999996" y="327.9" width="3.7" height="1" fill="#3a3a3a"/>
<text x="65.25" y="326.6" font-size="12.2" fill="#3a3a3a" font-family="Liberation Serif" stroke="#333" stroke-width="0.12" textLength="10.9" lengthAdjust="spacingAndGlyphs">17</text>
<text x="68.10000000000001" y="337.6" font-size="12.2" fill="#3a3a3a" font-family="Liberation Serif" stroke="#333" stroke-width="0.12" textLength="5.2" lengthAdjust="spacingAndGlyphs">5</text>
<rect x="67.5" y="327.9" width="6.4" height="0.9" fill="#777"/>
<rect x="62.9" y="327.9" width="3.7" height="1" fill="#3a3a3a"/>
<text x="81.14999999999999" y="326.6" font-size="12.2" fill="#3a3a3a" font-family="Liberation Serif" stroke="#333" stroke-width="0.12" textLength="10.9" lengthAdjust="spacingAndGlyphs">10</text>
<text x="84.0" y="337.6" font-size="12.2" fill="#3a3a3a" font-family="Liberation Serif" stroke="#333" stroke-width="0.12" textLength="5.2" lengthAdjust="spacingAndGlyphs">3</text>
<rect x="83.39999999999999" y="327.9" width="6.4" height="0.9" fill="#777"/>
<rect x="78.8" y="327.9" width="3.7" height="1" fill="#3a3a3a"/>
<text x="99.1" y="333.5" font-size="12.8" fill="#3a3a3a" font-family="Liberation Serif" stroke="#333" stroke-width="0.12" textLength="5.8" lengthAdjust="spacingAndGlyphs">3</text>
<rect x="92.1" y="328.5" width="5.6" height="1.3" fill="#3a3a3a"/>
<text x="121.275" y="326.6" font-size="12.2" fill="#3a3a3a" font-family="Liberation Serif" stroke="#333" stroke-width="0.12" textLength="5.45" lengthAdjust="spacingAndGlyphs">8</text>
<text x="121.4" y="337.6" font-size="12.2" fill="#3a3a3a" font-family="Liberation Serif" stroke="#333" stroke-width="0.12" textLength="5.2" lengthAdjust="spacingAndGlyphs">3</text>
<rect x="120.8" y="327.9" width="6.4" height="0.9" fill="#777"/>
<rect x="116.2" y="327.9" width="3.7" height="1" fill="#3a3a3a"/>
<text x="135.57500000000002" y="326.6" font-size="12.2" fill="#3a3a3a" font-family="Liberation Serif" stroke="#333" stroke-width="0.12" textLength="5.45" lengthAdjust="spacingAndGlyphs">5</text>
<text x="135.70000000000002" y="337.6" font-size="12.2" fill="#3a3a3a" font-family="Liberation Serif" stroke="#333" stroke-width="0.12" textLength="5.2" lengthAdjust="spacingAndGlyphs">2</text>
<rect x="135.10000000000002" y="327.9" width="6.4" height="0.9" fill="#777"/>
<rect x="130.50000000000003" y="327.9" width="3.7" height="1" fill="#3a3a3a"/>
<text x="149.475" y="326.6" font-size="12.2" fill="#3a3a3a" font-family="Liberation Serif" stroke="#333" stroke-width="0.12" textLength="5.45" lengthAdjust="spacingAndGlyphs">7</text>
<text x="149.6" y="337.6" font-size="12.2" fill="#3a3a3a" font-family="Liberation Serif" stroke="#333" stroke-width="0.12" textLength="5.2" lengthAdjust="spacingAndGlyphs">3</text>
<rect x="149.0" y="327.9" width="6.4" height="0.9" fill="#777"/>
<rect x="144.4" y="327.9" width="3.7" height="1" fill="#3a3a3a"/>
<text x="160.55" y="326.6" font-size="12.2" fill="#3a3a3a" font-family="Liberation Serif" stroke="#333" stroke-width="0.12" textLength="10.9" lengthAdjust="spacingAndGlyphs">16</text>
<text x="163.4" y="337.6" font-size="12.2" fill="#3a3a3a" font-family="Liberation Serif" stroke="#333" stroke-width="0.12" textLength="5.2" lengthAdjust="spacingAndGlyphs">7</text>
<rect x="162.8" y="327.9" width="6.4" height="0.9" fill="#777"/>
<rect x="158.20000000000002" y="327.9" width="3.7" height="1" fill="#3a3a3a"/>
<text x="180.4" y="333.5" font-size="12.8" fill="#3a3a3a" font-family="Liberation Serif" stroke="#333" stroke-width="0.12" textLength="5.8" lengthAdjust="spacingAndGlyphs">2</text>
<rect x="173.4" y="328.5" width="5.6" height="1.3" fill="#3a3a3a"/>
<text x="204.675" y="326.6" font-size="12.2" fill="#3a3a3a" font-family="Liberation Serif" stroke="#333" stroke-width="0.12" textLength="5.45" lengthAdjust="spacingAndGlyphs">5</text>
<text x="204.8" y="337.6" font-size="12.2" fill="#3a3a3a" font-family="Liberation Serif" stroke="#333" stroke-width="0.12" textLength="5.2" lengthAdjust="spacingAndGlyphs">3</text>
<rect x="204.20000000000002" y="327.9" width="6.4" height="0.9" fill="#777"/>
<rect x="199.60000000000002" y="327.9" width="3.7" height="1" fill="#3a3a3a"/>
<text x="218.475" y="326.6" font-size="12.2" fill="#3a3a3a" font-family="Liberation Serif" stroke="#333" stroke-width="0.12" textLength="5.45" lengthAdjust="spacingAndGlyphs">8</text>
<text x="218.6" y="337.6" font-size="12.2" fill="#3a3a3a" font-family="Liberation Serif" stroke="#333" stroke-width="0.12" textLength="5.2" lengthAdjust="spacingAndGlyphs">5</text>
<rect x="218.0" y="327.9" width="6.4" height="0.9" fill="#777"/>
<rect x="213.4" y="327.9" width="3.7" height="1" fill="#3a3a3a"/>
<text x="235.275" y="326.6" font-size="12.2" fill="#3a3a3a" font-family="Liberation Serif" stroke="#333" stroke-width="0.12" textLength="5.45" lengthAdjust="spacingAndGlyphs">7</text>
<text x="235.4" y="337.6" font-size="12.2" fill="#3a3a3a" font-family="Liberation Serif" stroke="#333" stroke-width="0.12" textLength="5.2" lengthAdjust="spacingAndGlyphs">5</text>
<rect x="234.8" y="327.9" width="6.4" height="0.9" fill="#777"/>
<rect x="230.20000000000002" y="327.9" width="3.7" height="1" fill="#3a3a3a"/>
<text x="247.975" y="326.6" font-size="12.2" fill="#3a3a3a" font-family="Liberation Serif" stroke="#333" stroke-width="0.12" textLength="5.45" lengthAdjust="spacingAndGlyphs">4</text>
<text x="248.1" y="337.6" font-size="12.2" fill="#3a3a3a" font-family="Liberation Serif" stroke="#333" stroke-width="0.12" textLength="5.2" lengthAdjust="spacingAndGlyphs">3</text>
<rect x="247.5" y="327.9" width="6.4" height="0.9" fill="#777"/>
<rect x="242.9" y="327.9" width="3.7" height="1" fill="#3a3a3a"/>
<text x="272.40000000000003" y="333.5" font-size="12.8" fill="#3a3a3a" font-family="Liberation Serif" stroke="#333" stroke-width="0.12" textLength="5.8" lengthAdjust="spacingAndGlyphs">1</text>
<rect x="265.40000000000003" y="328.5" width="5.6" height="1.3" fill="#3a3a3a"/>
<text x="301.275" y="326.6" font-size="12.2" fill="#3a3a3a" font-family="Liberation Serif" stroke="#333" stroke-width="0.12" textLength="5.45" lengthAdjust="spacingAndGlyphs">2</text>
<text x="301.4" y="337.6" font-size="12.2" fill="#3a3a3a" font-family="Liberation Serif" stroke="#333" stroke-width="0.12" textLength="5.2" lengthAdjust="spacingAndGlyphs">3</text>
<rect x="300.8" y="327.9" width="6.4" height="0.9" fill="#777"/>
<rect x="296.2" y="327.9" width="3.7" height="1" fill="#3a3a3a"/>
<text x="315.875" y="326.6" font-size="12.2" fill="#3a3a3a" font-family="Liberation Serif" stroke="#333" stroke-width="0.12" textLength="5.45" lengthAdjust="spacingAndGlyphs">1</text>
<text x="316.0" y="337.6" font-size="12.2" fill="#3a3a3a" font-family="Liberation Serif" stroke="#333" stroke-width="0.12" textLength="5.2" lengthAdjust="spacingAndGlyphs">2</text>
<rect x="315.40000000000003" y="327.9" width="6.4" height="0.9" fill="#777"/>
<rect x="310.8" y="327.9" width="3.7" height="1" fill="#3a3a3a"/>
<text x="330.375" y="326.6" font-size="12.2" fill="#3a3a3a" font-family="Liberation Serif" stroke="#333" stroke-width="0.12" textLength="5.45" lengthAdjust="spacingAndGlyphs">1</text>
<text x="330.5" y="337.6" font-size="12.2" fill="#3a3a3a" font-family="Liberation Serif" stroke="#333" stroke-width="0.12" textLength="5.2" lengthAdjust="spacingAndGlyphs">3</text>
<rect x="329.90000000000003" y="327.9" width="6.4" height="0.9" fill="#777"/>
<rect x="325.3" y="327.9" width="3.7" height="1" fill="#3a3a3a"/>
<text x="343.275" y="326.6" font-size="12.2" fill="#3a3a3a" font-family="Liberation Serif" stroke="#333" stroke-width="0.12" textLength="5.45" lengthAdjust="spacingAndGlyphs">2</text>
<text x="343.4" y="337.6" font-size="12.2" fill="#3a3a3a" font-family="Liberation Serif" stroke="#333" stroke-width="0.12" textLength="5.2" lengthAdjust="spacingAndGlyphs">7</text>
<rect x="342.8" y="327.9" width="6.4" height="0.9" fill="#777"/>
<rect x="338.2" y="327.9" width="3.7" height="1" fill="#3a3a3a"/>
<text x="357.275" y="326.6" font-size="12.2" fill="#3a3a3a" font-family="Liberation Serif" stroke="#333" stroke-width="0.12" textLength="5.45" lengthAdjust="spacingAndGlyphs">1</text>
<text x="357.4" y="337.6" font-size="12.2" fill="#3a3a3a" font-family="Liberation Serif" stroke="#333" stroke-width="0.12" textLength="5.2" lengthAdjust="spacingAndGlyphs">3</text>
<rect x="356.8" y="327.9" width="6.4" height="0.9" fill="#777"/>
<text x="368.47499999999997" y="326.6" font-size="12.2" fill="#3a3a3a" font-family="Liberation Serif" stroke="#333" stroke-width="0.12" textLength="5.45" lengthAdjust="spacingAndGlyphs">2</text>
<text x="368.59999999999997" y="337.6" font-size="12.2" fill="#3a3a3a" font-family="Liberation Serif" stroke="#333" stroke-width="0.12" textLength="5.2" lengthAdjust="spacingAndGlyphs">5</text>
<rect x="368.0" y="327.9" width="6.4" height="0.9" fill="#777"/>
<text x="376.97499999999997" y="326.6" font-size="12.2" fill="#3a3a3a" font-family="Liberation Serif" stroke="#333" stroke-width="0.12" textLength="5.45" lengthAdjust="spacingAndGlyphs">3</text>
<text x="377.09999999999997" y="337.6" font-size="12.2" fill="#3a3a3a" font-family="Liberation Serif" stroke="#333" stroke-width="0.12" textLength="5.2" lengthAdjust="spacingAndGlyphs">7</text>
<rect x="376.5" y="327.9" width="6.4" height="0.9" fill="#777"/>
<text x="385.275" y="326.6" font-size="12.2" fill="#3a3a3a" font-family="Liberation Serif" stroke="#333" stroke-width="0.12" textLength="5.45" lengthAdjust="spacingAndGlyphs">4</text>
<text x="385.4" y="337.6" font-size="12.2" fill="#3a3a3a" font-family="Liberation Serif" stroke="#333" stroke-width="0.12" textLength="5.2" lengthAdjust="spacingAndGlyphs">7</text>
<rect x="384.8" y="327.9" width="6.4" height="0.9" fill="#777"/>
<text x="393.275" y="326.6" font-size="12.2" fill="#3a3a3a" font-family="Liberation Serif" stroke="#333" stroke-width="0.12" textLength="5.45" lengthAdjust="spacingAndGlyphs">3</text>
<text x="393.4" y="337.6" font-size="12.2" fill="#3a3a3a" font-family="Liberation Serif" stroke="#333" stroke-width="0.12" textLength="5.2" lengthAdjust="spacingAndGlyphs">5</text>
<rect x="392.8" y="327.9" width="6.4" height="0.9" fill="#777"/>
<text x="402.075" y="326.6" font-size="12.2" fill="#3a3a3a" font-family="Liberation Serif" stroke="#333" stroke-width="0.12" textLength="5.45" lengthAdjust="spacingAndGlyphs">2</text>
<text x="402.2" y="337.6" font-size="12.2" fill="#3a3a3a" font-family="Liberation Serif" stroke="#333" stroke-width="0.12" textLength="5.2" lengthAdjust="spacingAndGlyphs">3</text>
<rect x="401.6" y="327.9" width="6.4" height="0.9" fill="#777"/>
<text x="422.20000000000005" y="333.5" font-size="12.8" fill="#3a3a3a" font-family="Liberation Serif" stroke="#333" stroke-width="0.12" textLength="5.8" lengthAdjust="spacingAndGlyphs">1</text>
<text x="440.17499999999995" y="326.6" font-size="12.2" fill="#3a3a3a" font-family="Liberation Serif" stroke="#333" stroke-width="0.12" textLength="5.45" lengthAdjust="spacingAndGlyphs">6</text>
<text x="440.29999999999995" y="337.6" font-size="12.2" fill="#3a3a3a" font-family="Liberation Serif" stroke="#333" stroke-width="0.12" textLength="5.2" lengthAdjust="spacingAndGlyphs">5</text>
<rect x="439.7" y="327.9" width="6.4" height="0.9" fill="#777"/>
<text x="448.275" y="326.6" font-size="12.2" fill="#3a3a3a" font-family="Liberation Serif" stroke="#333" stroke-width="0.12" textLength="5.45" lengthAdjust="spacingAndGlyphs">9</text>
<text x="448.4" y="337.6" font-size="12.2" fill="#3a3a3a" font-family="Liberation Serif" stroke="#333" stroke-width="0.12" textLength="5.2" lengthAdjust="spacingAndGlyphs">7</text>
<rect x="447.8" y="327.9" width="6.4" height="0.9" fill="#777"/>
<text x="455.97499999999997" y="326.6" font-size="12.2" fill="#3a3a3a" font-family="Liberation Serif" stroke="#333" stroke-width="0.12" textLength="5.45" lengthAdjust="spacingAndGlyphs">4</text>
<text x="456.09999999999997" y="337.6" font-size="12.2" fill="#3a3a3a" font-family="Liberation Serif" stroke="#333" stroke-width="0.12" textLength="5.2" lengthAdjust="spacingAndGlyphs">3</text>
<rect x="455.5" y="327.9" width="6.4" height="0.9" fill="#777"/>
<text x="467.275" y="326.6" font-size="12.2" fill="#3a3a3a" font-family="Liberation Serif" stroke="#333" stroke-width="0.12" textLength="5.45" lengthAdjust="spacingAndGlyphs">3</text>
<text x="467.4" y="337.6" font-size="12.2" fill="#3a3a3a" font-family="Liberation Serif" stroke="#333" stroke-width="0.12" textLength="5.2" lengthAdjust="spacingAndGlyphs">2</text>
<rect x="466.8" y="327.9" width="6.4" height="0.9" fill="#777"/>
<text x="479.97499999999997" y="326.6" font-size="12.2" fill="#3a3a3a" font-family="Liberation Serif" stroke="#333" stroke-width="0.12" textLength="5.45" lengthAdjust="spacingAndGlyphs">5</text>
<text x="480.09999999999997" y="337.6" font-size="12.2" fill="#3a3a3a" font-family="Liberation Serif" stroke="#333" stroke-width="0.12" textLength="5.2" lengthAdjust="spacingAndGlyphs">3</text>
<rect x="479.5" y="327.9" width="6.4" height="0.9" fill="#777"/>
<text x="486.25" y="326.6" font-size="12.2" fill="#3a3a3a" font-family="Liberation Serif" stroke="#333" stroke-width="0.12" textLength="10.9" lengthAdjust="spacingAndGlyphs">12</text>
<text x="489.09999999999997" y="337.6" font-size="12.2" fill="#3a3a3a" font-family="Liberation Serif" stroke="#333" stroke-width="0.12" textLength="5.2" lengthAdjust="spacingAndGlyphs">7</text>
<rect x="488.5" y="327.9" width="6.4" height="0.9" fill="#777"/>
<text x="500.575" y="326.6" font-size="12.2" fill="#3a3a3a" font-family="Liberation Serif" stroke="#333" stroke-width="0.12" textLength="5.45" lengthAdjust="spacingAndGlyphs">9</text>
<text x="500.7" y="337.6" font-size="12.2" fill="#3a3a3a" font-family="Liberation Serif" stroke="#333" stroke-width="0.12" textLength="5.2" lengthAdjust="spacingAndGlyphs">5</text>
<rect x="500.1" y="327.9" width="6.4" height="0.9" fill="#777"/>
<text x="512.1" y="333.5" font-size="12.8" fill="#3a3a3a" font-family="Liberation Serif" stroke="#333" stroke-width="0.12" textLength="5.8" lengthAdjust="spacingAndGlyphs">2</text>
<text x="529.875" y="326.6" font-size="12.2" fill="#3a3a3a" font-family="Liberation Serif" stroke="#333" stroke-width="0.12" textLength="5.45" lengthAdjust="spacingAndGlyphs">7</text>
<text x="530.0" y="337.6" font-size="12.2" fill="#3a3a3a" font-family="Liberation Serif" stroke="#333" stroke-width="0.12" textLength="5.2" lengthAdjust="spacingAndGlyphs">3</text>
<rect x="529.4" y="327.9" width="6.4" height="0.9" fill="#777"/>
<text x="536.8499999999999" y="326.6" font-size="12.2" fill="#3a3a3a" font-family="Liberation Serif" stroke="#333" stroke-width="0.12" textLength="10.9" lengthAdjust="spacingAndGlyphs">12</text>
<text x="539.6999999999999" y="337.6" font-size="12.2" fill="#3a3a3a" font-family="Liberation Serif" stroke="#333" stroke-width="0.12" textLength="5.2" lengthAdjust="spacingAndGlyphs">5</text>
<rect x="539.0999999999999" y="327.9" width="6.4" height="0.9" fill="#777"/>
<text x="548.3499999999999" y="326.6" font-size="12.2" fill="#3a3a3a" font-family="Liberation Serif" stroke="#333" stroke-width="0.12" textLength="10.9" lengthAdjust="spacingAndGlyphs">17</text>
<text x="551.1999999999999" y="337.6" font-size="12.2" fill="#3a3a3a" font-family="Liberation Serif" stroke="#333" stroke-width="0.12" textLength="5.2" lengthAdjust="spacingAndGlyphs">7</text>
<rect x="550.5999999999999" y="327.9" width="6.4" height="0.9" fill="#777"/>
<text x="559.9499999999999" y="326.6" font-size="12.2" fill="#3a3a3a" font-family="Liberation Serif" stroke="#333" stroke-width="0.12" textLength="10.9" lengthAdjust="spacingAndGlyphs">18</text>
<text x="562.8" y="337.6" font-size="12.2" fill="#3a3a3a" font-family="Liberation Serif" stroke="#333" stroke-width="0.12" textLength="5.2" lengthAdjust="spacingAndGlyphs">7</text>
<rect x="562.1999999999999" y="327.9" width="6.4" height="0.9" fill="#777"/>
<text x="570.25" y="326.6" font-size="12.2" fill="#3a3a3a" font-family="Liberation Serif" stroke="#333" stroke-width="0.12" textLength="10.9" lengthAdjust="spacingAndGlyphs">13</text>
<text x="573.1" y="337.6" font-size="12.2" fill="#3a3a3a" font-family="Liberation Serif" stroke="#333" stroke-width="0.12" textLength="5.2" lengthAdjust="spacingAndGlyphs">5</text>
<rect x="572.5" y="327.9" width="6.4" height="0.9" fill="#777"/>
<text x="584.975" y="326.6" font-size="12.2" fill="#3a3a3a" font-family="Liberation Serif" stroke="#333" stroke-width="0.12" textLength="5.45" lengthAdjust="spacingAndGlyphs">8</text>
<text x="585.1" y="337.6" font-size="12.2" fill="#3a3a3a" font-family="Liberation Serif" stroke="#333" stroke-width="0.12" textLength="5.2" lengthAdjust="spacingAndGlyphs">3</text>
<rect x="584.5" y="327.9" width="6.4" height="0.9" fill="#777"/>
<text x="600.6" y="333.5" font-size="12.8" fill="#3a3a3a" font-family="Liberation Serif" stroke="#333" stroke-width="0.12" textLength="5.8" lengthAdjust="spacingAndGlyphs">3</text>
<text x="627.25" y="326.6" font-size="12.2" fill="#3a3a3a" font-family="Liberation Serif" stroke="#333" stroke-width="0.12" textLength="10.9" lengthAdjust="spacingAndGlyphs">10</text>
<text x="630.1" y="337.6" font-size="12.2" fill="#3a3a3a" font-family="Liberation Serif" stroke="#333" stroke-width="0.12" textLength="5.2" lengthAdjust="spacingAndGlyphs">3</text>
<rect x="629.5" y="327.9" width="6.4" height="0.9" fill="#777"/>
<text x="644.975" y="326.6" font-size="12.2" fill="#3a3a3a" font-family="Liberation Serif" stroke="#333" stroke-width="0.12" textLength="5.45" lengthAdjust="spacingAndGlyphs">7</text>
<text x="645.1" y="337.6" font-size="12.2" fill="#3a3a3a" font-family="Liberation Serif" stroke="#333" stroke-width="0.12" textLength="5.2" lengthAdjust="spacingAndGlyphs">2</text>
<rect x="644.5" y="327.9" width="6.4" height="0.9" fill="#777"/>
<text x="657.15" y="326.6" font-size="12.2" fill="#3a3a3a" font-family="Liberation Serif" stroke="#333" stroke-width="0.12" textLength="10.9" lengthAdjust="spacingAndGlyphs">11</text>
<text x="660.0" y="337.6" font-size="12.2" fill="#3a3a3a" font-family="Liberation Serif" stroke="#333" stroke-width="0.12" textLength="5.2" lengthAdjust="spacingAndGlyphs">3</text>
<rect x="659.4" y="327.9" width="6.4" height="0.9" fill="#777"/>
<text x="689.1" y="333.5" font-size="12.8" fill="#3a3a3a" font-family="Liberation Serif" stroke="#333" stroke-width="0.12" textLength="5.8" lengthAdjust="spacingAndGlyphs">4</text>
<path d="M56.6,339.4 L56.6,355 M71.1,339.4 L59.1,355 M84,339.4 L63.8,348 L63.8,355 M101.1,339.4 L95.1,355 M124.2,339.4 L124.2,355 M139.1,339.4 L139.1,355 M152,339.4 L152,355 M164.5,339.4 L157.1,352 L157.1,355 M183.4,339.4 L183.4,355 M210.3,339.4 L216.3,355 M221.1,339.4 L221.1,355 M238.5,339.4 L238.5,355 M250.9,339.4 L244,352 L244,355 M274.5,339.4 L274.5,355 M304,339.4 L304,355 M319,339.4 L319,355 M333,339.4 L333,355 M345.1,339.4 L338.2,352 L338.2,355 M362.6,339.4 L369.1,352 L369.1,355 M372,339.4 L374.9,355 M380.6,339.4 L377.1,355 M388.3,339.4 L390,355 M396,339.4 L392.6,355 M405.4,339.4 L397.2,352 L397.2,355 M425.7,339.4 L425.7,355 M443.7,339.4 L445.8,355 M452,339.4 L452.6,355 M459.5,339.4 L456,355 M470.8,339.4 L470.8,355 M484,339.4 L485.7,355 M492.6,339.4 L489.1,355 M502.9,339.4 L496,352 L496,355 M515.4,339.4 L515.4,355 M535.1,339.4 L546,352 L546,355 M545.7,339.4 L551.2,355 M553.9,339.4 L553.9,355 M566,339.4 L566,355 M577.4,339.4 L568,352 L568,355 M587.7,339.4 L573.1,352 L573.1,355 M604,339.4 L604,355 M632.7,339.4 L632.7,355 M647.8,339.4 L647.8,355 M662.6,339.4 L662.6,355 M692.5,339.4 L692.5,355" fill="none" stroke="#707070" stroke-width="0.9"/>
<rect x="128.9" y="314.6" width="14.0" height="24.8" fill="none" stroke="#777" stroke-width="0.8" stroke-dasharray="2 1.6"/>
<rect x="309.5" y="314.6" width="14.699999999999989" height="24.8" fill="none" stroke="#777" stroke-width="0.8" stroke-dasharray="2 1.6"/>
<rect x="464" y="314.6" width="14.300000000000011" height="24.8" fill="none" stroke="#777" stroke-width="0.8" stroke-dasharray="2 1.6"/>
<rect x="641" y="314.6" width="14.200000000000045" height="24.8" fill="none" stroke="#777" stroke-width="0.8" stroke-dasharray="2 1.6"/>
</svg></body></html>
